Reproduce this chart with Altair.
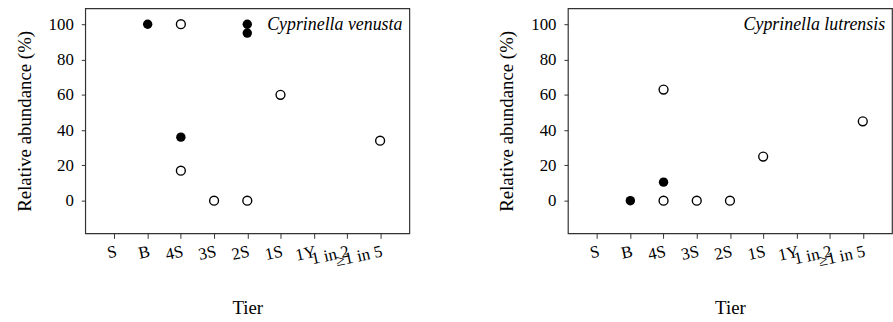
import altair as alt
import pandas as pd

tiers = ["S", "B", "4S", "3S", "2S", "1S", "1Y", "1 in 2", "\u22651 in 5"]

venusta_filled_tier = ["B", "4S", "2S", "2S"]
venusta_filled_val = [100, 36, 100, 95]
venusta_open_tier = ["4S", "4S", "3S", "2S", "1S", "\u22651 in 5"]
venusta_open_val = [100, 17, 0, 0, 60, 34]

lutrensis_filled_tier = ["B", "4S"]
lutrensis_filled_val = [0, 10.5]
lutrensis_open_tier = ["4S", "4S", "3S", "2S", "1S", "\u22651 in 5"]
lutrensis_open_val = [63, 0, 0, 0, 25, 45]

FONT = "Liberation Serif"
W, H = 327, 227


def panel(name, ft, fv, ot, ov):
    df = pd.concat([
        pd.DataFrame({"tier": ft, "value": fv, "kind": "filled"}),
        pd.DataFrame({"tier": ot, "value": ov, "kind": "open"}),
    ], ignore_index=True)
    x = alt.X("tier:O",
              scale=alt.Scale(type="point", domain=tiers, padding=0.88),
              axis=alt.Axis(title="Tier", labelAngle=348, labelAlign="right",
                            labelBaseline="top", labelPadding=5, labelOverlap=False,
                            tickSize=5, titlePadding=30, domain=False))
    y = alt.Y("value:Q",
              scale=alt.Scale(domain=[-18.5, 109], nice=False, zero=False),
              axis=alt.Axis(title="Relative abundance (%)", values=[0, 20, 40, 60, 80, 100],
                            tickSize=4, labelPadding=8, titlePadding=14, domain=False))
    base = alt.Chart(df)
    filled = base.transform_filter(alt.datum.kind == "filled").mark_point(
        shape="circle", filled=True, size=90, color="black", opacity=1
    ).encode(x=x, y=y)
    opened = base.transform_filter(alt.datum.kind == "open").mark_point(
        shape="circle", filled=False, size=80, stroke="black", fill="white",
        strokeWidth=1.4, opacity=1
    ).encode(x=x, y=y)
    label = alt.Chart(pd.DataFrame({"t": [name]})).mark_text(
        font=FONT, fontStyle="italic", fontSize=18, align="right",
        baseline="middle", color="black"
    ).encode(text="t:N", x=alt.value(W - 7), y=alt.value(17))
    return alt.layer(filled, opened, label).properties(width=W, height=H)


left = panel("Cyprinella venusta", venusta_filled_tier, venusta_filled_val,
             venusta_open_tier, venusta_open_val)
right = panel("Cyprinella lutrensis", lutrensis_filled_tier, lutrensis_filled_val,
              lutrensis_open_tier, lutrensis_open_val)

chart = alt.hconcat(left, right, spacing=87).properties(
    padding={"left": 14, "top": 6, "right": 0, "bottom": 0}
).configure(font=FONT).configure_view(
    stroke="#333333", strokeWidth=1.2
).configure_axis(
    labelFont=FONT, titleFont=FONT, labelFontSize=17, titleFontSize=19,
    titleFontWeight="normal", labelColor="black", titleColor="black",
    tickColor="#333333", grid=False
)

chart.save("out.html", embed_options={"renderer": "svg", "actions": False})
